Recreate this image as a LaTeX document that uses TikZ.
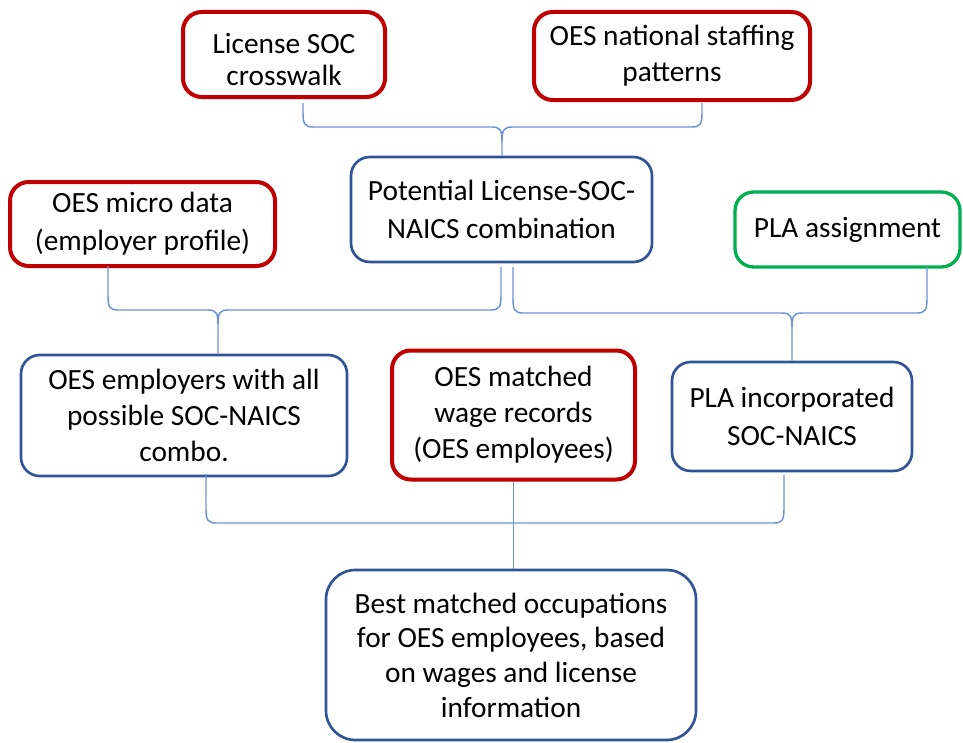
\documentclass[tikz,border=0pt]{standalone}
\usepackage{fontspec}
\setmainfont{Carlito}
\definecolor{boxred}{HTML}{C00000}
\definecolor{boxblue}{HTML}{2F5597}
\definecolor{boxgreen}{HTML}{00B050}
\definecolor{linkblue}{HTML}{6A93D4}
\tikzset{
  box/.style={draw, rectangle, rounded corners=14pt, align=center, inner sep=0pt, fill=white,
              font=\fontsize{22}{27}\selectfont},
  redbox/.style={box, draw=boxred, line width=3pt},
  bluebox/.style={box, draw=boxblue, line width=2pt},
  greenbox/.style={box, draw=boxgreen, line width=2.5pt},
  brace/.style={draw=linkblue, line width=1.1pt},
  widelines/.style={font=\fontsize{22}{28.5}\selectfont},
}
% #1 left x, #2 left top y, #3 right x, #4 right top y, #5 centre x, #6 horizontal y, #7 target node
\newcommand{\bracketlink}[7]{%
  \draw[brace] (#1,#2) -- (#1,#6-14) .. controls (#1,#6-3) and (#1+2,#6) .. (#1+10,#6)
     -- (#5-10,#6) .. controls (#5-2,#6) and (#5,#6+3) .. (#5,#6+14) -- (#5,0 |- #7.north);
  \draw[brace] (#3,#4) -- (#3,#6-14) .. controls (#3,#6-3) and (#3-2,#6) .. (#3-10,#6)
     -- (#5+10,#6) .. controls (#5+2,#6) and (#5,#6+3) .. (#5,#6+14);
}
\begin{document}
\begin{tikzpicture}[x=0.75pt, y=-0.75pt]
\useasboundingbox (0,0) rectangle (963,742);

\node[redbox, font=\fontsize{22}{24.5}\selectfont, minimum width=202*0.75pt, minimum height=85*0.75pt] (n1) at (284,54.5) {\rule{0pt}{22.5pt}License SOC\\crosswalk};
\node[redbox, minimum width=276*0.75pt, minimum height=88*0.75pt] (n2) at (672,56) {OES national staffing\\patterns};
\node[bluebox, widelines, minimum width=301*0.75pt, minimum height=105*0.75pt] (n3) at (501.5,209.5) {Potential License-SOC-\\NAICS combination};
\node[redbox, widelines, minimum width=265*0.75pt, minimum height=84*0.75pt] (n4) at (142.5,224) {OES micro data\\(employer profile)};
\node[greenbox, minimum width=225*0.75pt, minimum height=75*0.75pt] (n5) at (847.5,229.5) {PLA assignment};
\node[bluebox, minimum width=326*0.75pt, minimum height=121*0.75pt] (n6) at (184,415.5) {OES employers with all\\possible SOC-NAICS\\combo.};
\node[redbox, minimum width=243*0.75pt, minimum height=129*0.75pt] (n7) at (513.5,415) {OES matched\\wage records\\(OES employees)};
\node[bluebox, widelines, minimum width=240*0.75pt, minimum height=109*0.75pt] (n8) at (792,416.5) {PLA incorporated\\SOC-NAICS};
\node[bluebox, rounded corners=22pt, font=\fontsize{22}{26}\selectfont, minimum width=370*0.75pt, minimum height=170*0.75pt] (n9) at (511,655) {Best matched occupations\\for OES employees, based\\on wages and license\\information};

% brackets
\bracketlink{303}{103}{702}{103}{502}{127}{n3}
\bracketlink{108}{266}{501}{267}{218}{310}{n6}
\bracketlink{513}{267}{927}{267}{792}{313}{n8}

% bottom bracket
\coordinate (bl) at (206,474);
\coordinate (br) at (784,475);
\draw[brace] (bl) -- (206,509) .. controls (206,520) and (208,523) .. (216,523)
   -- (774,523) .. controls (782,523) and (784,520) .. (784,509) -- (br);
\draw[brace] (n7.south) -- (n7.south |- n9.north);
\end{tikzpicture}
\end{document}
